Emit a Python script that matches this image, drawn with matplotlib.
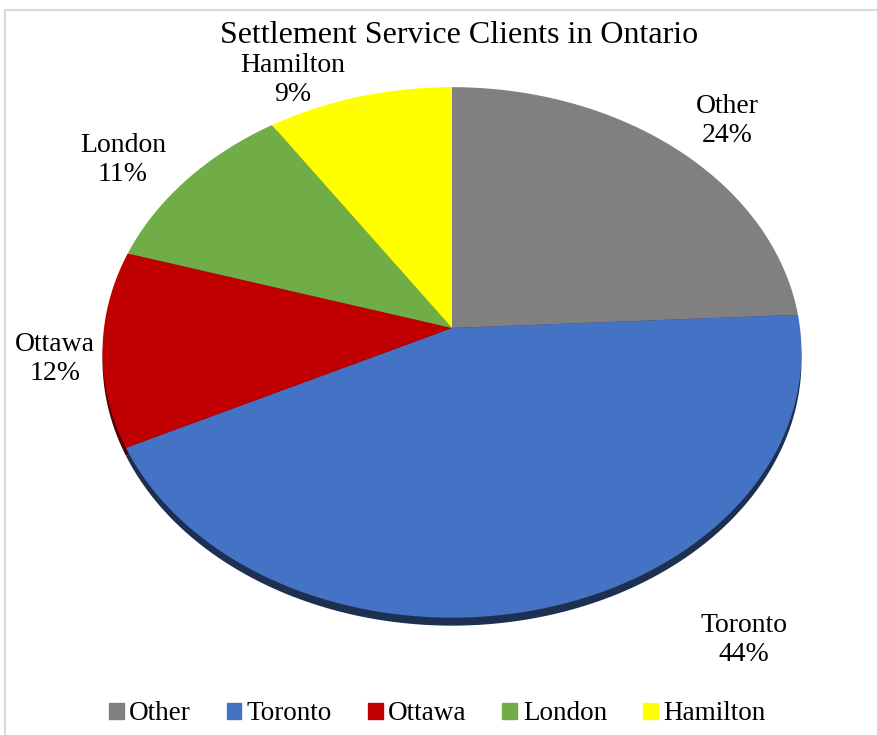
import numpy as np
import matplotlib.pyplot as plt
from matplotlib.patches import Polygon, Rectangle
from matplotlib.colors import to_rgb

regions = ["Other", "Toronto", "Ottawa", "London", "Hamilton"]
shares = [24.2, 43.6, 11.9, 10.9, 9.4]
colors = ["#808080", "#4472C4", "#C00000", "#70AD47", "#FFFF00"]
# label anchors in pixels: (centre x, baseline of first line) - Excel "best fit"
label_pos = [(727, 113), (744, 632), (55, 351), (123, 152), (293, 72)]

W, H = 877, 735
CX, CY = 452, 328     # pie centre in pixels
RX, A, K = 348, 263, 0.092   # width, height, perspective tilt
DEPTH = 8

plt.rcParams['font.family'] = ['Liberation Serif', 'DejaVu Serif']

fig = plt.figure(figsize=(W / 100, H / 100), dpi=100)
ax = fig.add_axes([0, 0, 1, 1])
ax.set_xlim(0, W)
ax.set_ylim(H, 0)
ax.axis("off")

# light chart frame
ax.add_patch(Rectangle((5, 10), W + 20, H + 20, facecolor="white",
                       edgecolor="#D9D9D9", lw=1.5, zorder=0))


def project(theta):
    u, v = np.cos(theta), np.sin(theta)
    d = 1 + K * v
    return CX + RX * u / d, CY - A * v / d


def wedge_xy(t1, t2):
    t = np.linspace(t1, t2, 200)
    x, y = project(t)
    return np.column_stack([np.r_[CX, x], np.r_[CY, y]])


total = sum(shares)
start = 90.0
angles = []
for s in shares:
    end = start - 360.0 * s / total
    angles.append((np.radians(end), np.radians(start)))
    start = end

# pie side (thickness)
for (t1, t2), c in zip(angles, colors):
    xy = wedge_xy(t1, t2)
    xy[:, 1] += DEPTH
    dark = tuple(0.42 * np.array(to_rgb(c)))
    ax.add_patch(Polygon(xy, closed=True, facecolor=dark, edgecolor="none", zorder=1))

# pie top
for (t1, t2), c in zip(angles, colors):
    ax.add_patch(Polygon(wedge_xy(t1, t2), closed=True, facecolor=c,
                         edgecolor="none", zorder=2))

for name, s, (lx, ly) in zip(regions, shares, label_pos):
    ax.text(lx, ly, name, ha="center", va="baseline", fontsize=20, zorder=3)
    ax.text(lx, ly + 29, f"{round(100 * s / total)}%", ha="center", va="baseline",
            fontsize=20, zorder=3)

ax.text(459, 43, "Settlement Service Clients in Ontario", ha="center", va="baseline",
        fontsize=23)

handles = [Rectangle((0, 0), 1, 1, color=c) for c in colors]
fig.legend(handles, regions, loc="center", bbox_to_anchor=(437 / W, 1 - 714 / H),
           ncol=5, frameon=False, fontsize=19.5, handlelength=0.55, handleheight=0.55,
           handletextpad=0.2, columnspacing=1.32, borderpad=0)

fig.savefig("out.png", dpi=100)
